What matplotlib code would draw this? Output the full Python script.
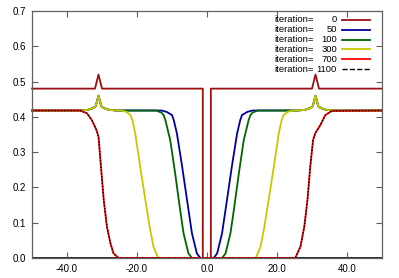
import matplotlib
matplotlib.use('Agg')
import matplotlib.pyplot as plt

plt.rcParams['font.family'] = ['Liberation Sans', 'DejaVu Sans']

# iteration 0
x_it0 = [-50, -32, -31, -30, -1.2, -1.2, 1.1, 1.1, 30, 31, 32, 50]
y_it0 = [0.48, 0.48, 0.52, 0.48, 0.48, 0.0, 0.0, 0.48, 0.48, 0.52, 0.48, 0.48]

# iteration 50
x_it50 = [-50, -36, -34, -32.5, -31.8, -31, -30.2, -29.5, -28, -26, -13, -11.5, -10, -9.5, -8.6,
          -7.1, -5.7, -4.3, -2.9, -1.9, 1.9, 2.9, 4.3, 5.7, 7.1, 8.6, 9.5, 10, 11.5, 13,
          26, 28, 29.5, 30.2, 31, 31.8, 32.5, 34, 36, 50]
y_it50 = [0.418, 0.418, 0.420, 0.425, 0.43, 0.46, 0.43, 0.425, 0.420, 0.418, 0.418, 0.414, 0.405, 0.391, 0.353,
          0.259, 0.164, 0.07, 0.013, 0.0, 0.0, 0.013, 0.07, 0.164, 0.259, 0.353, 0.391, 0.405, 0.414, 0.418,
          0.418, 0.420, 0.425, 0.43, 0.46, 0.43, 0.425, 0.420, 0.418, 0.418]

# iteration 100
x_it100 = [-50, -36, -34, -32.5, -31.8, -31, -30.2, -29.5, -28, -26, -14.5, -13, -12.4, -11.9, -10.5,
           -9.1, -7.8, -6.7, -5.3, -4.3, 4.3, 5.3, 6.7, 7.8, 9.1, 10.5, 11.9, 12.4, 13, 14.5,
           26, 28, 29.5, 30.2, 31, 31.8, 32.5, 34, 36, 50]
y_it100 = [0.418, 0.418, 0.420, 0.425, 0.43, 0.46, 0.43, 0.425, 0.420, 0.418, 0.418, 0.412, 0.405, 0.391, 0.334,
           0.24, 0.145, 0.07, 0.013, 0.0, 0.0, 0.013, 0.07, 0.145, 0.24, 0.334, 0.391, 0.405, 0.412, 0.418,
           0.418, 0.420, 0.425, 0.43, 0.46, 0.43, 0.425, 0.420, 0.418, 0.418]

# iteration 300
x_it300 = [-50, -36, -34, -32.5, -31.8, -31, -30.2, -29.5, -28, -26, -24.5, -23, -21.9, -21.3, -20.5,
           -19.1, -17.6, -16.4, -15.3, -14.1, -13.8, 13.8, 14.1, 15.3, 16.4, 17.6, 19.1, 20.5, 21.3, 21.9,
           23, 24.5, 26, 28, 29.5, 30.2, 31, 31.8, 32.5, 34, 36, 50]
y_it300 = [0.418, 0.418, 0.420, 0.425, 0.43, 0.46, 0.43, 0.425, 0.420, 0.418, 0.418, 0.414, 0.405, 0.39, 0.353,
           0.259, 0.164, 0.089, 0.032, 0.004, 0.0, 0.0, 0.004, 0.032, 0.089, 0.164, 0.259, 0.353, 0.39, 0.405,
           0.414, 0.418, 0.418, 0.420, 0.425, 0.43, 0.46, 0.43, 0.425, 0.420, 0.418, 0.418]

# iteration 700 (1100 lies on top of it)
x_it700 = [-50, -36.2, -34.3, -32.9, -31.6, -31, -30.3, -29.5, -28.6, -27.6, -26.7, -25.5, -24.8,
           25.2, 26.7, 27.8, 28.7, 29.5, 30.3, 30.9, 32.4, 33.8, 35.7, 50]
y_it700 = [0.418, 0.418, 0.41, 0.391, 0.363, 0.344, 0.259, 0.164, 0.089, 0.042, 0.013, 0.002, 0.0,
           0.0, 0.032, 0.089, 0.164, 0.259, 0.334, 0.353, 0.377, 0.405, 0.417, 0.418]
x_it1100 = x_it700
y_it1100 = y_it700

labels = ['0', '50', '100', '300', '700', '1100']

fig = plt.figure(figsize=(3.99, 2.78), dpi=100)
ax = fig.add_axes([32 / 399, 1 - 258 / 278, 350 / 399, 247 / 278])

ax.axhline(0, color='black', lw=1.2, zorder=1)

lines = []
lines.append(ax.plot(x_it0, y_it0, color='#9b0f0f', lw=1.3, clip_on=False)[0])
lines.append(ax.plot(x_it50, y_it50, color='#0000a0', lw=1.3, clip_on=False)[0])
lines.append(ax.plot(x_it100, y_it100, color='#006400', lw=1.3, clip_on=False)[0])
lines.append(ax.plot(x_it300, y_it300, color='#c8c800', lw=1.3, clip_on=False)[0])
lines.append(ax.plot(x_it700, y_it700, color='#ff0000', lw=1.3, clip_on=False)[0])
lines.append(ax.plot(x_it1100, y_it1100, color='black', lw=1.0, ls=(0, (1, 1.3)), clip_on=False)[0])

ax.set_xlim(-50, 50)
ax.set_ylim(0, 0.7)
ax.set_xticks([-40, -20, 0, 20, 40])
ax.set_xticklabels(['-40.0', '-20.0', '0.0', '20.0', '40.0'])
ax.set_yticks([0, 0.1, 0.2, 0.3, 0.4, 0.5, 0.6, 0.7])
ax.set_yticklabels(['0.0', '0.1', '0.2', '0.3', '0.4', '0.5', '0.6', '0.7'])
ax.tick_params(direction='in', length=4, width=0.8, color='#606060', labelsize=7,
               top=True, right=True, pad=4)
for s in ax.spines.values():
    s.set_color('#606060')
    s.set_linewidth(0.9)

# hand-made key, gnuplot style
row_y = [20, 30, 39.5, 49, 59, 69]
for ln, lab, py in zip(lines, labels, row_y):
    ya = (258 - py) / 247
    ax.text((274 - 32) / 350, ya, 'iteration=', transform=ax.transAxes,
            ha='left', va='center', fontsize=6.8)
    ax.text((337 - 32) / 350, ya, lab, transform=ax.transAxes,
            ha='right', va='center', fontsize=6.8)
    ax.plot([(342 - 32) / 350, (370 - 32) / 350], [ya, ya], transform=ax.transAxes,
            color=ln.get_color(), lw=ln.get_linewidth(), ls=ln.get_linestyle(), clip_on=False)

fig.savefig('out.png', dpi=100)
